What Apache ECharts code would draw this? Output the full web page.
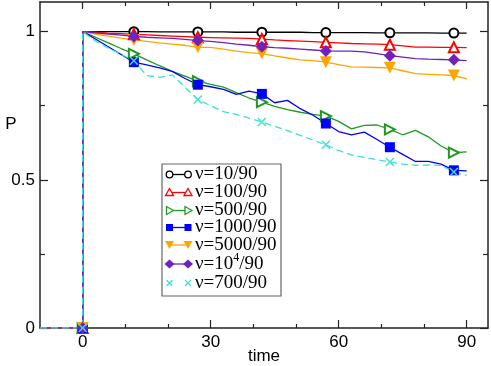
<!DOCTYPE html>
<html>
<head>
<meta charset="utf-8">
<script src="https://cdn.jsdelivr.net/npm/echarts@6/dist/echarts.min.js"></script>
<style>
  html, body { margin: 0; padding: 0; background: #fff; }
  #main { width: 491px; height: 366px; }
</style>
</head>
<body>
<div id="main"></div>
<script>
// time axis samples (after the step at t=0)
var times = [0, 3, 6, 9, 12, 15, 18, 21, 24, 27, 30, 33, 36, 39, 42, 45, 48, 51, 54, 57, 60, 63, 66, 69, 72, 75, 78, 81, 84, 87, 90];
// before the step: P = 0
var preTimes = [-10, 0];
var preValues = [0, 0];
// times that carry a marker
var markerTimes = [12, 27, 42, 57, 72, 87];

var p10 = [1, 1, 1, 1, 1, 1, 0.999, 0.999, 0.999, 0.999, 0.999, 0.999, 0.998, 0.998, 0.998, 0.998, 0.998, 0.998, 0.997, 0.997, 0.997, 0.997, 0.997, 0.996, 0.996, 0.996, 0.996, 0.996, 0.995, 0.995, 0.995];
var p100 = [1, 0.998, 0.995, 0.993, 0.991, 0.989, 0.987, 0.985, 0.983, 0.981, 0.980, 0.979, 0.978, 0.977, 0.975, 0.972, 0.970, 0.968, 0.966, 0.964, 0.962, 0.960, 0.959, 0.958, 0.956, 0.952, 0.948, 0.948, 0.947, 0.947, 0.946];
var p500 = [1, 0.981, 0.962, 0.943, 0.925, 0.905, 0.885, 0.866, 0.850, 0.833, 0.822, 0.813, 0.794, 0.776, 0.762, 0.748, 0.737, 0.728, 0.721, 0.715, 0.697, 0.672, 0.684, 0.685, 0.670, 0.652, 0.667, 0.645, 0.614, 0.592, 0.594];
var p1000 = [1, 0.975, 0.949, 0.923, 0.897, 0.888, 0.878, 0.866, 0.842, 0.821, 0.814, 0.805, 0.788, 0.799, 0.790, 0.760, 0.768, 0.740, 0.718, 0.690, 0.663, 0.652, 0.661, 0.636, 0.610, 0.586, 0.562, 0.562, 0.553, 0.532, 0.530];
var p5000 = [1, 0.992, 0.985, 0.978, 0.972, 0.967, 0.962, 0.958, 0.954, 0.947, 0.947, 0.941, 0.934, 0.929, 0.926, 0.918, 0.911, 0.905, 0.902, 0.897, 0.889, 0.881, 0.880, 0.879, 0.878, 0.868, 0.858, 0.856, 0.854, 0.852, 0.841];
var p1e4 = [1, 0.996, 0.992, 0.988, 0.984, 0.981, 0.979, 0.977, 0.974, 0.970, 0.967, 0.963, 0.958, 0.954, 0.949, 0.946, 0.944, 0.941, 0.938, 0.935, 0.934, 0.934, 0.932, 0.926, 0.919, 0.914, 0.909, 0.907, 0.906, 0.905, 0.902];
var p700 = [1, 0.968, 0.945, 0.923, 0.902, 0.852, 0.846, 0.854, 0.812, 0.771, 0.750, 0.730, 0.721, 0.708, 0.695, 0.681, 0.666, 0.650, 0.634, 0.618, 0.599, 0.584, 0.576, 0.568, 0.560, 0.553, 0.549, 0.550, 0.549, 0.526, 0.515];

var legendLabels = ['ν=10/90', 'ν=100/90', 'ν=500/90', 'ν=1000/90', 'ν=5000/90', 'ν=10{sup|4}/90', 'ν=700/90'];

var xMajor = [0, 30, 60, 90];
var xMinor = [10, 20, 40, 50, 70, 80];
var yMajor = [0, 0.5, 1];
var yMinor = [0.25, 0.75];

function buildData(vals) {
    var pts = [];
    for (var i = 0; i < preTimes.length; i++) {
        // marker at (0,0)
        pts.push(preTimes[i] === 0 ? { value: [preTimes[i], preValues[i]] } : { value: [preTimes[i], preValues[i]], symbol: 'none' });
    }
    for (var j = 0; j < times.length; j++) {
        if (markerTimes.indexOf(times[j]) >= 0) {
            pts.push({ value: [times[j], vals[j]] });
        } else {
            pts.push({ value: [times[j], vals[j]], symbol: 'none' });
        }
    }
    return pts;
}

var crossPath = 'path://M0,0L10,10M10,0L0,10';

var styles = [
    { vals: p10, color: '#000000', symbol: 'emptyCircle', size: 9, rotate: 0 },
    { vals: p100, color: '#ff0000', symbol: 'emptyTriangle', size: 10, rotate: 0 },
    { vals: p500, color: '#1f9a1f', symbol: 'emptyTriangle', size: 10, rotate: -90 },
    { vals: p1000, color: '#0000ff', symbol: 'rect', size: 10, rotate: 0 },
    { vals: p5000, color: '#ffa500', symbol: 'triangle', size: 12, rotate: 180 },
    { vals: p1e4, color: '#7221bc', symbol: 'diamond', size: 12, rotate: 0 },
    { vals: p700, color: '#40e0d0', symbol: crossPath, size: 8, rotate: 0, dashed: true }
];

var series = styles.map(function (s) {
    return {
        type: 'line',
        xAxisIndex: 0,
        yAxisIndex: 0,
        data: buildData(s.vals),
        symbol: s.symbol,
        symbolSize: s.size,
        symbolRotate: s.rotate,
        showAllSymbol: true,
        color: s.color,
        itemStyle: s.symbol === crossPath
            ? { color: 'rgba(0,0,0,0)', borderColor: s.color, borderWidth: 1.4 }
            : { color: s.color, borderWidth: 1.5 },
        lineStyle: { color: s.color, width: 1.3, type: s.dashed ? [7, 4] : 'solid' },
        animation: false
    };
});

var axisCol = '#222';
var labelFont = { fontFamily: '"Liberation Sans", Arial, sans-serif', fontSize: 17, color: '#000' };

// legend drawn as graphic
var legendItems = [];
legendItems.push({ type: 'rect', shape: { x: 162, y: 164, width: 119, height: 132 }, style: { fill: '#fff', stroke: '#666', lineWidth: 1.2 } });
var rowY = [174.5, 192.5, 210.5, 227.5, 245, 264, 283];
var symX = [169.5, 188];

function legendSymbol(kind, cx, cy, color) {
    if (kind === 0) return { type: 'circle', shape: { cx: cx, cy: cy, r: 3.3 }, style: { fill: '#fff', stroke: color, lineWidth: 1.3 } };
    if (kind === 1) return { type: 'polygon', shape: { points: [[cx, cy - 4], [cx + 4, cy + 3], [cx - 4, cy + 3]] }, style: { fill: '#fff', stroke: color, lineWidth: 1.3 } };
    if (kind === 2) return { type: 'polygon', shape: { points: [[cx + 4, cy], [cx - 3, cy - 4], [cx - 3, cy + 4]] }, style: { fill: '#fff', stroke: color, lineWidth: 1.3 } };
    if (kind === 3) return { type: 'rect', shape: { x: cx - 3.5, y: cy - 3.5, width: 7, height: 7 }, style: { fill: color } };
    if (kind === 4) return { type: 'polygon', shape: { points: [[cx - 4.5, cy - 4], [cx + 4.5, cy - 4], [cx, cy + 4]] }, style: { fill: color } };
    if (kind === 5) return { type: 'polygon', shape: { points: [[cx, cy - 4.5], [cx + 5, cy], [cx, cy + 4.5], [cx - 5, cy]] }, style: { fill: color } };
    return {
        type: 'group',
        children: [
            { type: 'line', shape: { x1: cx - 3, y1: cy - 3, x2: cx + 3, y2: cy + 3 }, style: { stroke: color, lineWidth: 1.3 } },
            { type: 'line', shape: { x1: cx + 3, y1: cy - 3, x2: cx - 3, y2: cy + 3 }, style: { stroke: color, lineWidth: 1.3 } }
        ]
    };
}

for (var k = 0; k < styles.length; k++) {
    var cy = rowY[k];
    var col = styles[k].color;
    if (k !== 6) {
        legendItems.push({ type: 'line', shape: { x1: symX[0], y1: cy, x2: symX[1], y2: cy }, style: { stroke: col, lineWidth: 1.3 } });
    }
    legendItems.push(legendSymbol(k, symX[0], cy, col));
    legendItems.push(legendSymbol(k, symX[1], cy, col));
    legendItems.push({
        type: 'text',
        x: 195,
        y: cy,
        style: {
            text: legendLabels[k],
            fontFamily: '"Liberation Serif", "DejaVu Serif", serif',
            fontSize: 19,
            fill: '#000',
            verticalAlign: 'middle',
            rich: { sup: { fontSize: 12, fontFamily: '"Liberation Serif", serif', padding: [0, 0, 12, 0] } }
        }
    });
}

// y-axis title sits above the middle, as in the original
var yTitle = {
    type: 'text',
    x: 11,
    y: 124,
    style: { text: 'P', fontFamily: labelFont.fontFamily, fontSize: 17, fill: '#000', align: 'center', verticalAlign: 'middle' }
};

function xAx(pos, values, len, labels, lineShow) {
    return {
        type: 'value', position: pos, min: -10, max: 95,
        axisLine: { show: lineShow, onZero: false, lineStyle: { color: axisCol, width: 1.5 } },
        axisTick: { show: true, inside: true, length: len, customValues: values, lineStyle: { color: axisCol, width: 1.2 } },
        axisLabel: labels ? Object.assign({ show: true, customValues: labels, margin: 6 }, labelFont) : { show: false },
        splitLine: { show: false }
    };
}
function yAx(pos, values, len, labels, lineShow) {
    return {
        type: 'value', position: pos, min: 0, max: 1.1,
        axisLine: { show: lineShow, onZero: false, lineStyle: { color: axisCol, width: 1.5 } },
        axisTick: { show: true, inside: true, length: len, customValues: values, lineStyle: { color: axisCol, width: 1.2 } },
        axisLabel: labels ? Object.assign({ show: true, customValues: labels, margin: 5 }, labelFont) : { show: false },
        splitLine: { show: false }
    };
}

var xAxes = [
    xAx('bottom', xMajor, 8, xMajor, true),
    xAx('bottom', xMinor, 4, null, false),
    xAx('top', xMajor, 7, null, true),
    xAx('top', xMinor, 4, null, false)
];
xAxes[0].name = 'time';
xAxes[0].nameLocation = 'middle';
xAxes[0].nameGap = 20;
xAxes[0].nameMoveOverlap = false;
xAxes[0].nameTextStyle = labelFont;

var yAxes = [
    yAx('left', yMajor, 8, yMajor, true),
    yAx('left', yMinor, 5, null, false),
    yAx('right', yMajor, 8, null, true),
    yAx('right', yMinor, 5, null, false)
];

var chart = echarts.init(document.getElementById('main'), null, { renderer: 'canvas' });
chart.setOption({
    backgroundColor: '#fff',
    animation: false,
    grid: { left: 40, right: 3, top: 2, bottom: 38, containLabel: false, outerBoundsMode: 'none' },
    xAxis: xAxes,
    yAxis: yAxes,
    series: series,
    graphic: [yTitle, { type: 'group', z: 100, children: legendItems }]
});
</script>
</body>
</html>
